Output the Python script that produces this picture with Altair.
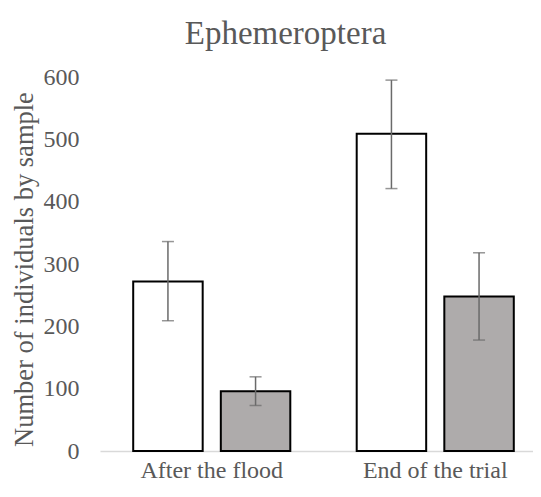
import altair as alt
import pandas as pd

groups = ["After the flood", "End of the trial"]
series = ["Series 1", "Series 2"]
means = [272, 96, 509, 248]
lower = [209, 73, 421, 178]
upper = [336, 119, 595, 318]
y_ticks = [0, 100, 200, 300, 400, 500, 600]
bar_colors = ["#FFFFFF", "#AEABAB"]

rows = []
i = 0
for g in groups:
    for s in series:
        rows.append({"group": g, "series": s, "mean": means[i], "lo": lower[i], "hi": upper[i]})
        i += 1
df = pd.DataFrame(rows)

FONT = "Liberation Serif"
GREY = "#595959"

x_enc = alt.X("group:N", sort=groups,
              scale=alt.Scale(paddingInner=0, paddingOuter=0, range=[0, 447]),
              axis=alt.Axis(title=None, labelAngle=0, ticks=False, tickSize=0,
                            labelPadding=7, labelFont=FONT, labelFontSize=24,
                            labelColor=GREY, domainColor="#D9D9D9", domainWidth=1.5))
xo_enc = alt.XOffset("series:N", sort=series,
                     scale=alt.Scale(paddingInner=0.207, paddingOuter=0.379))
y_scale = alt.Scale(domain=[0, 600], nice=False)

base = alt.Chart(df)

bars = base.mark_bar(stroke="#000000", strokeWidth=2).encode(
    x=x_enc,
    xOffset=xo_enc,
    y=alt.Y("mean:Q", scale=y_scale,
            axis=alt.Axis(title="Number of individuals by sample", values=y_ticks,
                          grid=False, domain=False, ticks=False, tickSize=0,
                          labelPadding=21, labelFont=FONT, labelFontSize=24,
                          labelColor=GREY, titleFont=FONT, titleFontSize=26.5,
                          titleFontWeight="normal", titleColor=GREY,
                          titlePadding=5, titleY=192)),
    color=alt.Color("series:N", sort=series,
                    scale=alt.Scale(domain=series, range=bar_colors), legend=None),
)

rules = base.mark_rule(color="#6A6A6A", strokeWidth=1.5).encode(
    x=alt.X("group:N", sort=groups),
    xOffset=alt.XOffset("series:N", sort=series),
    y=alt.Y("lo:Q", scale=y_scale),
    y2="hi:Q",
)

caps_lo = base.mark_tick(color="#6A6A6A", thickness=1.5, size=12).encode(
    x=alt.X("group:N", sort=groups),
    xOffset=alt.XOffset("series:N", sort=series),
    y=alt.Y("lo:Q", scale=y_scale),
)
caps_hi = base.mark_tick(color="#6A6A6A", thickness=1.5, size=12).encode(
    x=alt.X("group:N", sort=groups),
    xOffset=alt.XOffset("series:N", sort=series),
    y=alt.Y("hi:Q", scale=y_scale),
)

chart = alt.layer(bars, rules, caps_lo, caps_hi).properties(
    width=433,
    height=374,
    autosize=alt.AutoSizeParams(type="none"),
    padding={"left": 92, "top": 69, "right": 0, "bottom": 38},
    title=alt.Title("Ephemeroptera", font=FONT, fontSize=33, fontWeight="normal",
                    color=GREY, anchor="middle", dx=-31, offset=14),
).configure_view(stroke=None)

chart.save("out.html", embed_options={"renderer": "svg", "actions": False})
